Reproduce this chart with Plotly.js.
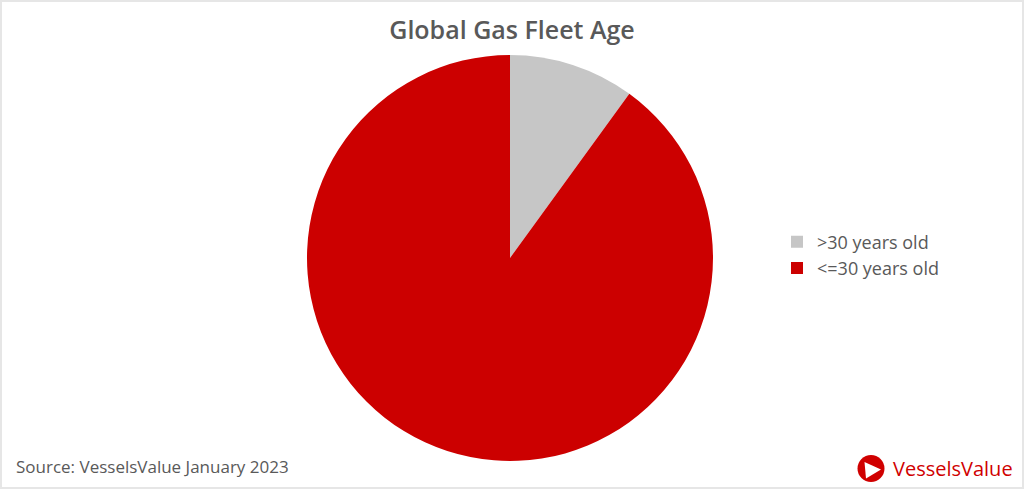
<!DOCTYPE html>
<html>
<head>
<meta charset="utf-8">
<script src="https://cdn.plot.ly/plotly-3.0.1.min.js"></script>
<style>
  html, body { margin: 0; padding: 0; background: #ffffff; }
  #chart { width: 1024px; height: 489px; }
</style>
</head>
<body>
<div id="chart"></div>
<script>
// Data
var categories = ['>30 years old', '<=30 years old'];
var shares = [10, 90];
var sliceColors = ['#c6c6c6', '#cc0000'];
var chartTitle = 'Global Gas Fleet Age';
var sourceText = 'Source: VesselsValue January 2023';
var brandText = 'VesselsValue';

var W = 1024, H = 489;
function px(x) { return x / W; }
function py(y) { return 1 - y / H; }

var trace = {
  type: 'pie',
  labels: categories,
  values: shares,
  sort: false,
  direction: 'clockwise',
  rotation: 0,
  marker: { colors: sliceColors, line: { width: 0 } },
  textinfo: 'none',
  hoverinfo: 'label+percent',
  domain: { x: [px(307), px(713)], y: [py(461), py(55)] }
};

var textColor = '#595959';
var fontFam = '"Open Sans", "DejaVu Sans", sans-serif';

var layout = {
  width: W,
  height: H,
  margin: { l: 0, r: 0, t: 0, b: 0 },
  paper_bgcolor: '#e6e6e6',
  showlegend: true,
  title: {
    text: chartTitle,
    font: { family: fontFam, size: 25, color: textColor, weight: 600 },
    x: 0.5, xanchor: 'center', xref: 'paper',
    y: py(30), yanchor: 'middle', yref: 'paper'
  },
  legend: {
    x: px(777), xanchor: 'left',
    y: py(255), yanchor: 'middle',
    font: { family: fontFam, size: 18, color: textColor },
    bgcolor: 'rgba(0,0,0,0)',
    traceorder: 'normal'
  },
  shapes: [
    { type: 'rect', xref: 'paper', yref: 'paper', layer: 'below',
      x0: px(2), x1: px(1022), y0: py(487), y1: py(2),
      fillcolor: '#ffffff', line: { width: 0 } },
    { type: 'circle', xref: 'paper', yref: 'paper',
      x0: px(857.5), x1: px(884.5), y0: py(482), y1: py(455),
      fillcolor: '#d00000', line: { width: 0 } },
    { type: 'path', xref: 'paper', yref: 'paper',
      path: 'M ' + px(864.5) + ' ' + py(462) + ' L ' + px(881) + ' ' + py(469.5) + ' L ' + px(866) + ' ' + py(478.5) + ' Z',
      fillcolor: '#ffffff', line: { width: 0 } }
  ],
  annotations: [
    { text: sourceText, xref: 'paper', yref: 'paper',
      x: px(14), xanchor: 'left', y: py(466), yanchor: 'middle',
      showarrow: false,
      font: { family: fontFam, size: 17, color: textColor } },
    { text: brandText, xref: 'paper', yref: 'paper',
      x: px(891), xanchor: 'left', y: py(468), yanchor: 'middle',
      showarrow: false,
      font: { family: fontFam, size: 20, color: '#d00000' } }
  ]
};

Plotly.newPlot('chart', [trace], layout, { displayModeBar: false, staticPlot: false });
</script>
</body>
</html>
